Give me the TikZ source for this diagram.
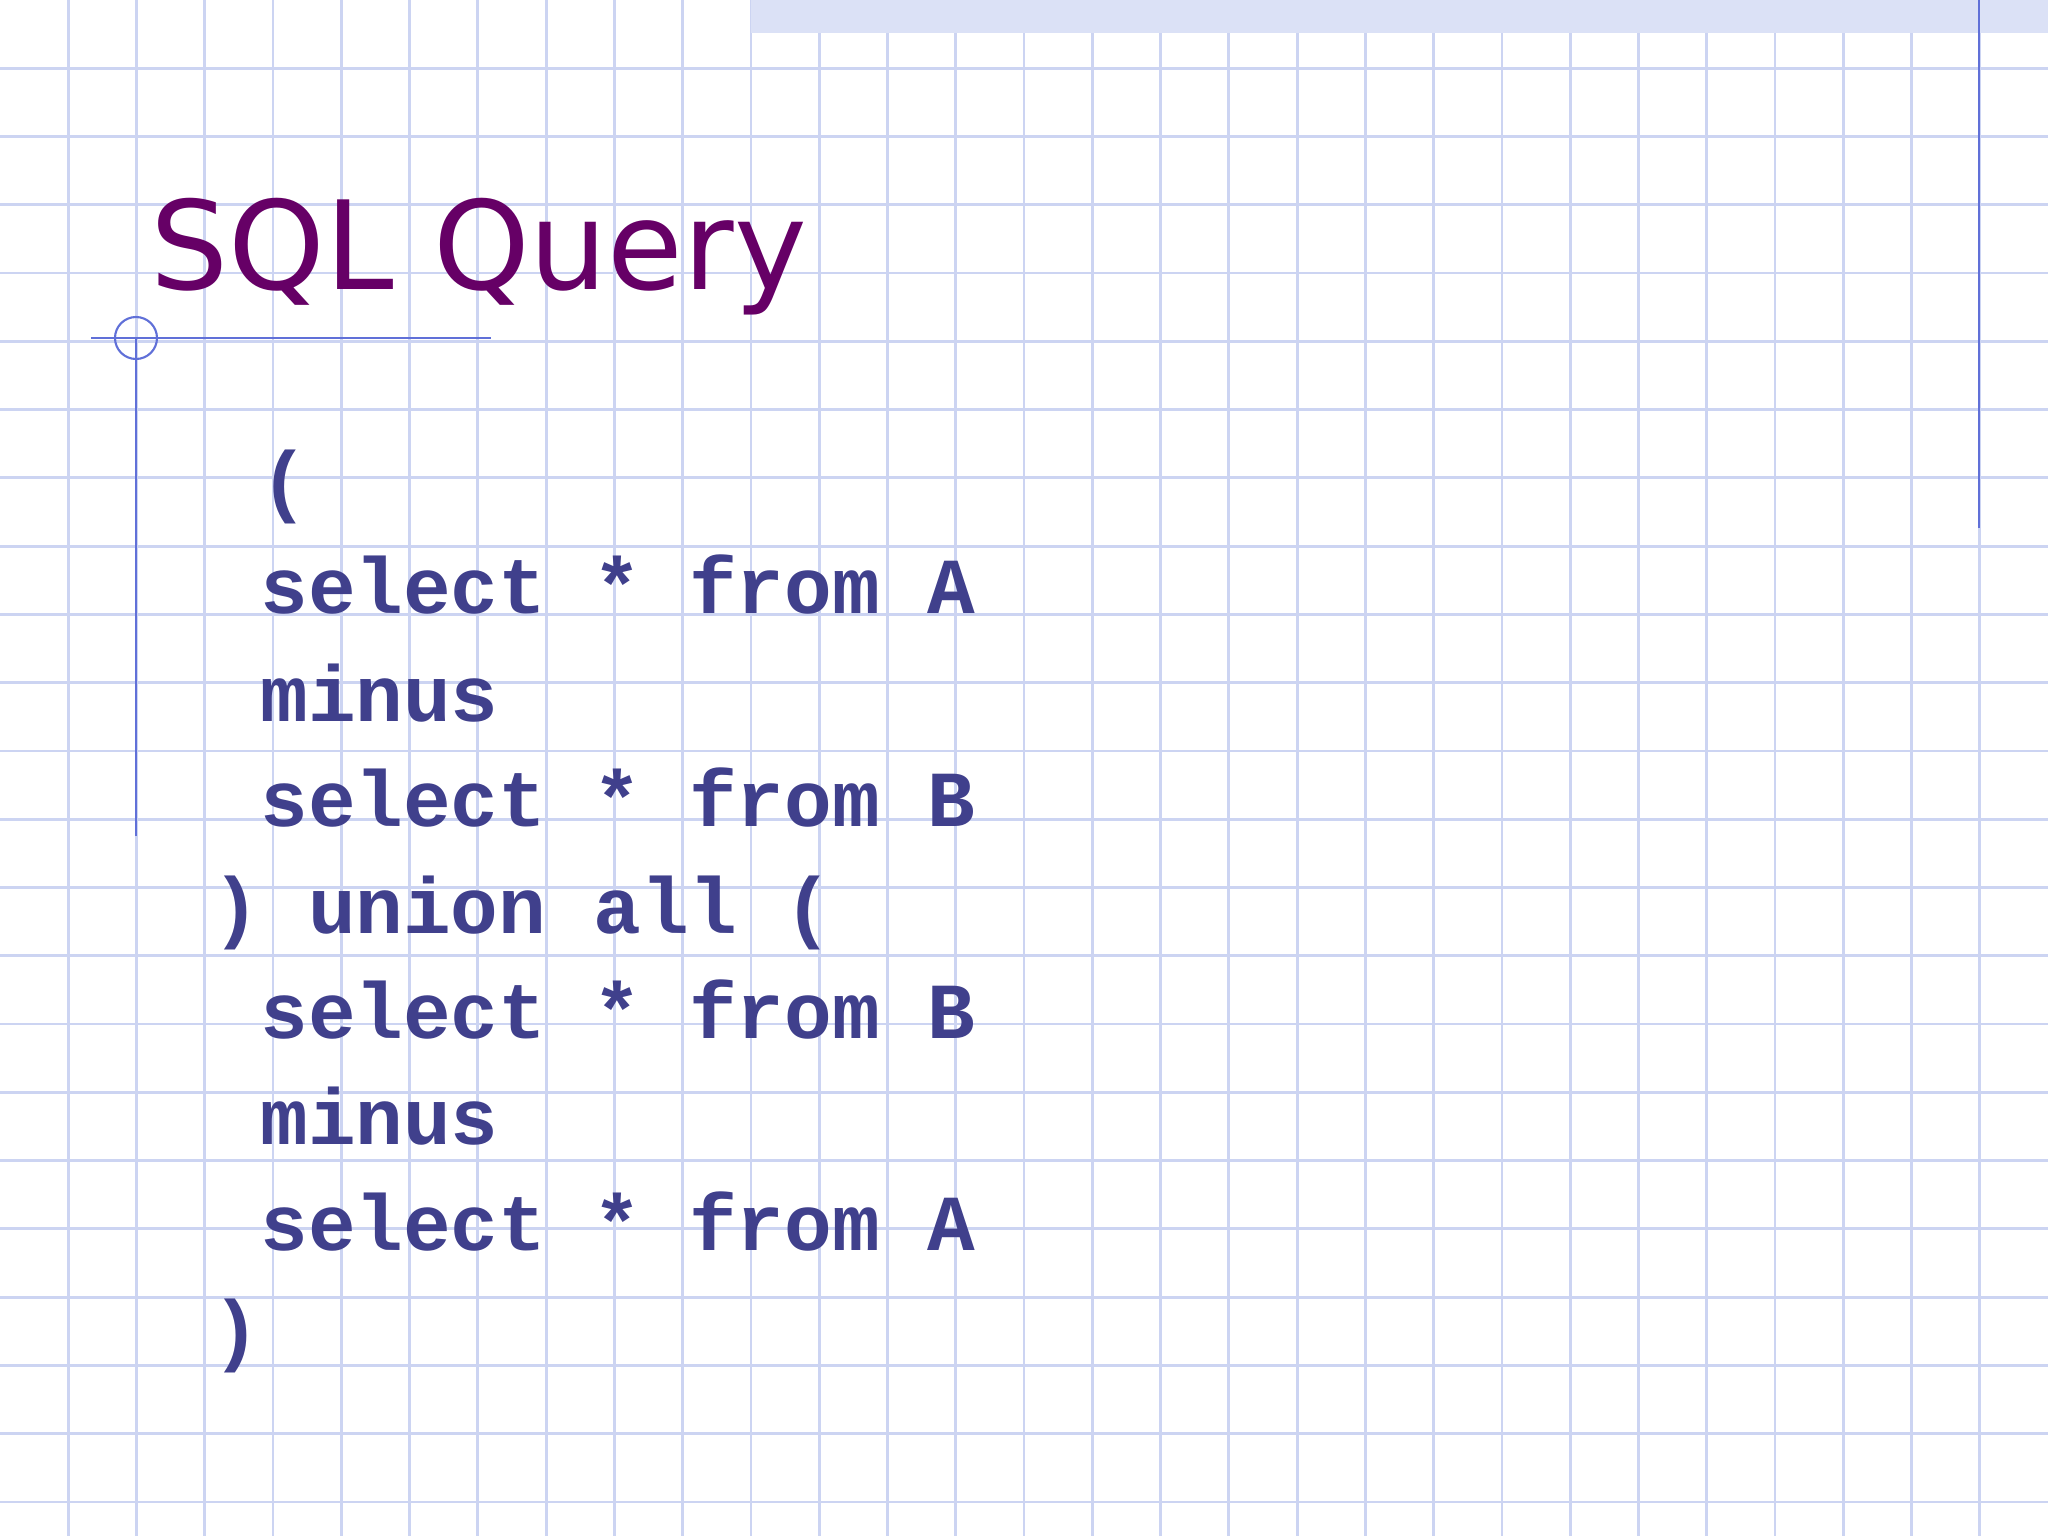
\documentclass[tikz,border=0pt]{standalone}
\usepackage{fontspec}
\setmainfont{DejaVu Sans}
\newfontfamily\codefont{Liberation Mono}
\definecolor{gridc}{HTML}{CCD4F2}
\definecolor{titlec}{HTML}{660066}
\definecolor{codec}{HTML}{40408C}
\definecolor{linec}{HTML}{6070D8}
\begin{document}
\begin{tikzpicture}[x=1cm,y=1cm,
  code/.style={anchor=base west,inner sep=0pt,text=codec,font=\codefont\bfseries\fontsize{22.6}{26}\selectfont}]
\useasboundingbox (0,0) rectangle (20.48,-15.36);
\fill[white] (0,0) rectangle (20.48,-15.36);
\foreach \i in {1,...,29} \draw[gridc,line width=0.8pt] (\i*0.6827,0) -- (\i*0.6827,-15.36);
\foreach \j in {1,...,22} \draw[gridc,line width=0.8pt] (0,-\j*0.6827) -- (20.48,-\j*0.6827);
\fill[gridc!70] (7.51,0) rectangle (20.48,-0.33);
\draw[linec,line width=0.6pt] (19.79,0) -- (19.79,-5.28);
\draw[linec,line width=0.6pt] (0.91,-3.38) -- (4.91,-3.38);
\draw[linec,line width=0.6pt] (1.36,-3.38) -- (1.36,-8.36);
\draw[linec,line width=0.6pt] (1.36,-3.38) circle (0.21);
\node[anchor=base west,inner sep=0pt,text=titlec,font=\fontsize{35}{40}\selectfont] (title) at (1.50,-2.90) {SQL Query};
\def\sp{\phantom{x}}
\node[code] (l1) at (2.12,-5.08) {\sp(};
\node[code] (l2) at (2.12,-6.14) {\sp select * from A};
\node[code] (l3) at (2.12,-7.21) {\sp minus};
\node[code] (l4) at (2.12,-8.27) {\sp select * from B};
\node[code] (l5) at (2.12,-9.33) {) union all (};
\node[code] (l6) at (2.12,-10.38) {\sp select * from B};
\node[code] (l7) at (2.12,-11.44) {\sp minus};
\node[code] (l8) at (2.12,-12.50) {\sp select * from A};
\node[code] (l9) at (2.12,-13.56) {)};
\end{tikzpicture}
\end{document}
